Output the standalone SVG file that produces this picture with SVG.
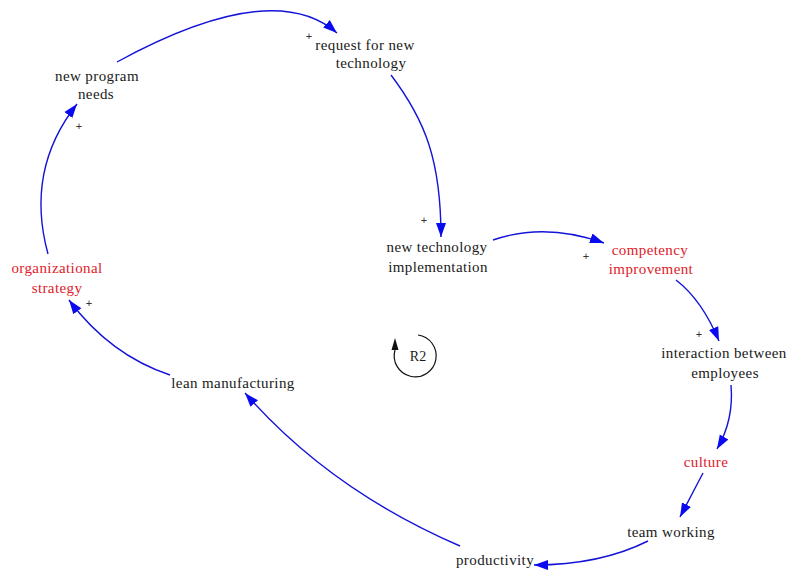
<svg xmlns="http://www.w3.org/2000/svg" width="789" height="570" viewBox="0 0 789 570">
<defs>
<style>
.t{font-family:"Liberation Serif","Times New Roman",serif;font-size:15px;fill:#1a1a1a;text-anchor:middle;letter-spacing:0.4px}
.r{fill:#e0202a}
.p{font-family:"Liberation Sans",Arial,sans-serif;font-size:11px;fill:#333;text-anchor:middle}
.c{fill:none;stroke:#1414d8;stroke-width:1.4}
</style>
<marker id="ah" markerUnits="userSpaceOnUse" markerWidth="16" markerHeight="12" refX="14" refY="6" orient="auto">
<path d="M0,1 L14,6 L0,11 Z" fill="#0a0af0"/>
</marker>
</defs>
<rect width="789" height="570" fill="#fff"/>
<g id="connectors">
<path class="c" marker-end="url(#ah)" d="M117,62 Q273,-23 337,33"/>
<path class="c" marker-end="url(#ah)" d="M391,75 C425,120 441,160 441,237"/>
<path class="c" marker-end="url(#ah)" d="M493,240 Q545,222 604,243"/>
<path class="c" marker-end="url(#ah)" d="M676,280 Q702,300 719,341"/>
<path class="c" marker-end="url(#ah)" d="M731,385 Q734,420 717,449"/>
<path class="c" marker-end="url(#ah)" d="M703,473 L680,517"/>
<path class="c" marker-end="url(#ah)" d="M648,541 Q600,565 534,565"/>
<path class="c" marker-end="url(#ah)" d="M460,546 Q330,490 245,393"/>
<path class="c" marker-end="url(#ah)" d="M170,375 Q110,355 69,300"/>
<path class="c" marker-end="url(#ah)" d="M48,254 Q25,170 77,104"/>
</g>
<g id="new-program-needs"><text class="t" x="97" y="81">new program</text><text class="t" x="96" y="99">needs</text></g>
<g id="request-for-new-technology"><text class="t" x="365" y="50">request for new</text><text class="t" x="371" y="68">technology</text></g>
<g id="new-technology-implementation"><text class="t" x="437" y="252">new technology</text><text class="t" x="438" y="272">implementation</text></g>
<g id="competency-improvement"><text class="t r" x="650" y="255">competency</text><text class="t r" x="651" y="274">improvement</text></g>
<g id="interaction-between-employees"><text class="t" x="724" y="358">interaction between</text><text class="t" x="725" y="378">employees</text></g>
<g id="culture"><text class="t r" x="706" y="467">culture</text></g>
<g id="team-working"><text class="t" x="671" y="537">team working</text></g>
<g id="productivity"><text class="t" x="495" y="565">productivity</text></g>
<g id="lean-manufacturing"><text class="t" x="233" y="388">lean manufacturing</text></g>
<g id="organizational-strategy"><text class="t r" x="57" y="273">organizational</text><text class="t r" x="57" y="293">strategy</text></g>
<g id="loop-R2">
<path d="M418,335 A21,21 0 1 1 395,350" fill="none" stroke="#111" stroke-width="1.2"/>
<path d="M395,338 L391.5,350 L398.5,350 Z" fill="#111"/>
<text class="t" x="418" y="361" style="font-size:14px;letter-spacing:0">R2</text>
</g>
<g id="polarities">
<text class="p" x="79" y="130">+</text>
<text class="p" x="309" y="40">+</text>
<text class="p" x="424" y="224">+</text>
<text class="p" x="586" y="260">+</text>
<text class="p" x="699" y="338">+</text>
<text class="p" x="89" y="307">+</text>
</g>
</svg>
